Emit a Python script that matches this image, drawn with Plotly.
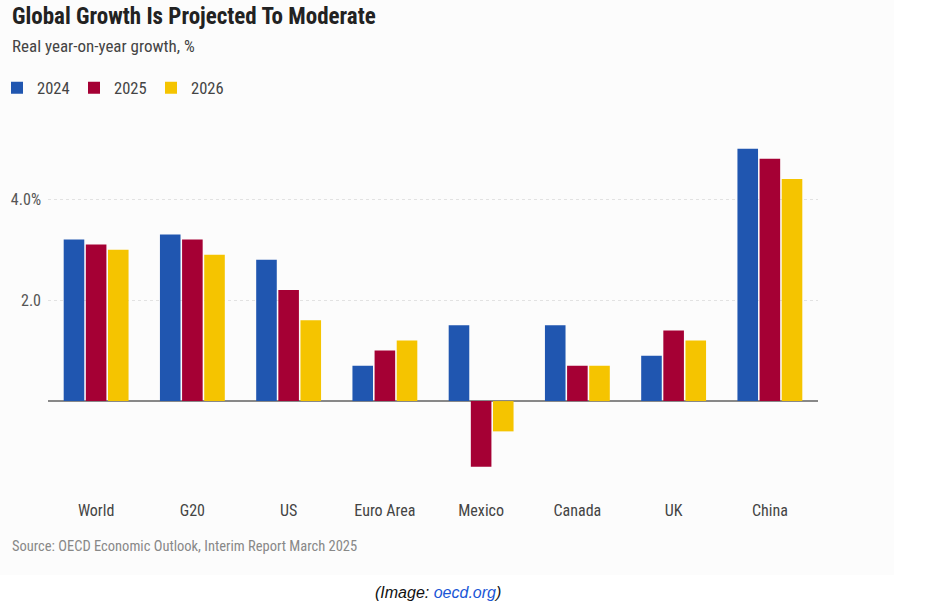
import plotly.graph_objects as go

categories = ["World", "G20", "US", "Euro Area", "Mexico", "Canada", "UK", "China"]
years = ["2024", "2025", "2026"]
values_2024 = [3.2, 3.3, 2.8, 0.7, 1.5, 1.5, 0.9, 5.0]
values_2025 = [3.1, 3.2, 2.2, 1.0, -1.3, 0.7, 1.4, 4.8]
values_2026 = [3.0, 2.9, 1.6, 1.2, -0.6, 0.7, 1.2, 4.4]
series = [values_2024, values_2025, values_2026]
colors = ["#2056b0", "#a50034", "#f5c400"]
y_tickvals = [2, 4]
y_ticktext = ["2.0", "4.0%"]

FONT = "Roboto Condensed, Roboto, sans-serif"

W, H = 948, 601
L, R, T, B = 48, 130, 130, 104
PW, PH = W - L - R, H - T - B


def px_x(px):
    return (px - L) / PW


def px_y(py):
    return (H - B - py) / PH


fig = go.Figure()
for name, vals, col in zip(years, series, colors):
    fig.add_trace(go.Bar(name=name, x=categories, y=vals, marker_color=col,
                         marker_line_width=0, hoverinfo="skip"))

fig.update_layout(
    width=W, height=H,
    margin=dict(l=L, r=R, t=T, b=B, autoexpand=False),
    paper_bgcolor="white", plot_bgcolor="rgba(0,0,0,0)",
    barmode="group", bargap=0.31, bargroupgap=0.07,
    font=dict(family=FONT, color="#555", size=16),
    showlegend=True,
    legend=dict(orientation="h", x=px_x(-3), y=px_y(88), xanchor="left", yanchor="middle",
                font=dict(size=16.5, color="#444", family=FONT), itemwidth=30,
                entrywidth=32, entrywidthmode="pixels",
                traceorder="normal", bgcolor="rgba(0,0,0,0)"),
    xaxis=dict(showgrid=False, showline=False, ticks="", tickfont=dict(size=16, color="#444"),
               ticklabelstandoff=2, fixedrange=True),
    yaxis=dict(range=[-1.9, 5.37], tickvals=y_tickvals, ticktext=y_ticktext,
               showgrid=True, gridcolor="#e2e2e2", griddash="dot", gridwidth=1,
               zeroline=True, zerolinecolor="#888", zerolinewidth=1.5,
               ticks="", tickfont=dict(size=16, color="#555"), ticklabelstandoff=6,
               showline=False, fixedrange=True),
)

fig.add_shape(type="rect", xref="paper", yref="paper", x0=px_x(0), x1=px_x(894),
              y0=px_y(575), y1=px_y(0), fillcolor="#fcfcfc", line_width=0, layer="below")

fig.add_annotation(text="<b>Global Growth Is Projected To Moderate</b>", xref="paper", yref="paper",
                   x=px_x(10), y=px_y(16), xanchor="left", yanchor="middle", showarrow=False,
                   font=dict(size=23, color="#222", family=FONT))
fig.add_annotation(text="Real year-on-year growth, %", xref="paper", yref="paper",
                   x=px_x(10), y=px_y(46), xanchor="left", yanchor="middle", showarrow=False,
                   font=dict(size=17, color="#444", family=FONT))
fig.add_annotation(text="Source: OECD Economic Outlook, Interim Report March 2025", xref="paper", yref="paper",
                   x=px_x(10), y=px_y(546), xanchor="left", yanchor="middle", showarrow=False,
                   font=dict(size=14.5, color="#888", family=FONT))
fig.add_annotation(text="<i>(Image: <span style='color:#1a56d6'>oecd.org</span>)</i>",
                   xref="paper", yref="paper",
                   x=px_x(438), y=px_y(592), xanchor="center", yanchor="middle", showarrow=False,
                   font=dict(size=16, color="#111", family="Liberation Sans, Arial, sans-serif"))

fig.write_html("out.html", config={"displayModeBar": False},
               post_script="document.body.style.margin='0';")
